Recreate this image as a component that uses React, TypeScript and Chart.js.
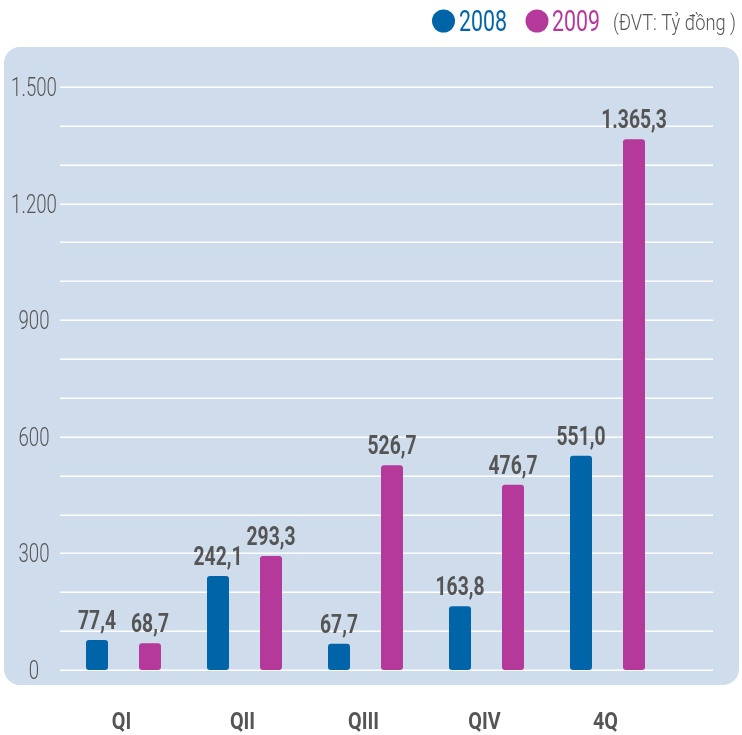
import React, { useEffect, useRef } from "react";
import { Chart, registerables } from "chart.js";

Chart.register(...registerables);

const categories = ["QI", "QII", "QIII", "QIV", "4Q"];
const series2008 = [77.4, 242.1, 67.7, 163.8, 551.0];
const series2009 = [68.7, 293.3, 526.7, 476.7, 1365.3];
const seriesNames = ["2008", "2009"];
const unitLabel = "(ĐVT: Tỷ đồng )";
const yMin = 0;
const yMax = 1500;
const yStep = 100;
const yLabelStep = 300;

const BLUE = "#0064a8";
const MAGENTA = "#b5399a";
const GRAY = "#555555";
const PANEL = "#cfdcec";
const FAM = "Roboto, 'DejaVu Sans', sans-serif";

function fmt(v: number, decimals: number): string {
  const fixed = v.toFixed(decimals);
  const [intPart, decPart] = fixed.split(".");
  const withDots = intPart.replace(/\B(?=(\d{3})+(?!\d))/g, ".");
  return decPart !== undefined ? withDots + "," + decPart : withDots;
}

// draw text condensed horizontally so that refText would measure refWidth
function narrowText(
  ctx: CanvasRenderingContext2D,
  text: string,
  x: number,
  y: number,
  font: string,
  align: CanvasTextAlign,
  refText: string,
  refWidth: number,
  color: string
) {
  ctx.save();
  ctx.font = font;
  const sx = refWidth / ctx.measureText(refText).width;
  ctx.translate(x, y);
  ctx.scale(sx, 1);
  ctx.fillStyle = color;
  ctx.textAlign = align;
  ctx.textBaseline = "alphabetic";
  ctx.fillText(text, 0, 0);
  ctx.restore();
}

const decorPlugin = {
  id: "decor",
  beforeDraw(chart: any) {
    const ctx = chart.ctx;
    ctx.save();
    const x = 4, y = 47, w = 735, h = 638, r = 16;
    ctx.fillStyle = PANEL;
    ctx.beginPath();
    ctx.moveTo(x + r, y);
    ctx.lineTo(x + w - r, y);
    ctx.arcTo(x + w, y, x + w, y + r, r);
    ctx.lineTo(x + w, y + h - r);
    ctx.arcTo(x + w, y + h, x + w - r, y + h, r);
    ctx.lineTo(x + r, y + h);
    ctx.arcTo(x, y + h, x, y + h - r, r);
    ctx.lineTo(x, y + r);
    ctx.arcTo(x, y, x + r, y, r);
    ctx.closePath();
    ctx.fill();

    // legend
    ctx.fillStyle = BLUE;
    ctx.beginPath();
    ctx.arc(443.5, 21, 11.5, 0, Math.PI * 2);
    ctx.fill();
    ctx.fillStyle = MAGENTA;
    ctx.beginPath();
    ctx.arc(537, 21, 11.5, 0, Math.PI * 2);
    ctx.fill();
    ctx.restore();
    const lf = `400 30px ${FAM}`;
    narrowText(ctx, seriesNames[0], 459, 31, lf, "left", "2008", 48, BLUE);
    narrowText(ctx, seriesNames[1], 552, 31, lf, "left", "2008", 48, MAGENTA);
    narrowText(ctx, unitLabel, 613, 30, `300 22px ${FAM}`, "left", unitLabel, 123, GRAY);
  },
  beforeDatasetsDraw(chart: any) {
    const ctx = chart.ctx;
    const ys = chart.scales.y;
    ctx.save();
    ctx.strokeStyle = "#ffffff";
    ctx.lineWidth = 1.5;
    ys.ticks.forEach((t: any) => {
      const py = Math.round(ys.getPixelForValue(t.value)) + 0.25;
      ctx.beginPath();
      ctx.moveTo(60, py);
      ctx.lineTo(713, py);
      ctx.stroke();
    });
    ctx.restore();
    // y labels
    ys.ticks.forEach((t: any) => {
      if (t.value % yLabelStep !== 0) return;
      const py = ys.getPixelForValue(t.value);
      narrowText(ctx, fmt(t.value, 0), 34, py + 9, `300 25px ${FAM}`, "center", "900", 31, GRAY);
    });
    // x labels
    const xs = chart.scales.x;
    categories.forEach((c, i) => {
      const px = xs.getPixelForValue(i);
      narrowText(ctx, c, px - 2, 729, `700 24px ${FAM}`, "center", "QIII", 31, GRAY);
    });
  },
  afterDatasetsDraw(chart: any) {
    const ctx = chart.ctx;
    chart.data.datasets.forEach((ds: any, di: number) => {
      const meta = chart.getDatasetMeta(di);
      meta.data.forEach((el: any, i: number) => {
        narrowText(ctx, fmt(ds.data[i], 1), el.x, el.y - 11, `700 25px ${FAM}`, "center", "242,1", 49, GRAY);
      });
    });
  },
};

export default function App() {
  const ref = useRef<HTMLCanvasElement | null>(null);
  useEffect(() => {
    if (!ref.current) return;
    const chart = new Chart(ref.current, {
      type: "bar",
      data: {
        labels: categories,
        datasets: [
          {
            label: seriesNames[0],
            data: series2008,
            backgroundColor: BLUE,
            borderRadius: 3,
            borderSkipped: false,
            categoryPercentage: 0.876,
            barPercentage: 0.415,
          },
          {
            label: seriesNames[1],
            data: series2009,
            backgroundColor: MAGENTA,
            borderRadius: 3,
            borderSkipped: false,
            categoryPercentage: 0.876,
            barPercentage: 0.415,
          },
        ],
      },
      options: {
        animation: false,
        responsive: false,
        maintainAspectRatio: false,
        layout: { padding: { top: 87, left: 0, right: 74, bottom: 0 } },
        plugins: { legend: { display: false }, tooltip: { enabled: false } },
        scales: {
          x: {
            grid: { display: false, drawTicks: false },
            border: { display: false },
            ticks: { color: "rgba(0,0,0,0)", font: { size: 12 } },
            afterFit: (s: any) => {
              s.height = 65;
            },
          },
          y: {
            min: yMin,
            max: yMax,
            grid: { display: false, drawTicks: false },
            border: { display: false },
            ticks: { stepSize: yStep, color: "rgba(0,0,0,0)", font: { size: 12 } },
            afterFit: (s: any) => {
              s.width = 63;
            },
          },
        },
      },
      plugins: [decorPlugin],
    } as any);
    return () => chart.destroy();
  }, []);
  return (
    <div style={{ position: "absolute", left: 0, top: 0, width: 742, height: 735, background: "#ffffff" }}>
      <canvas ref={ref} width={742} height={735} style={{ display: "block" }} />
    </div>
  );
}
